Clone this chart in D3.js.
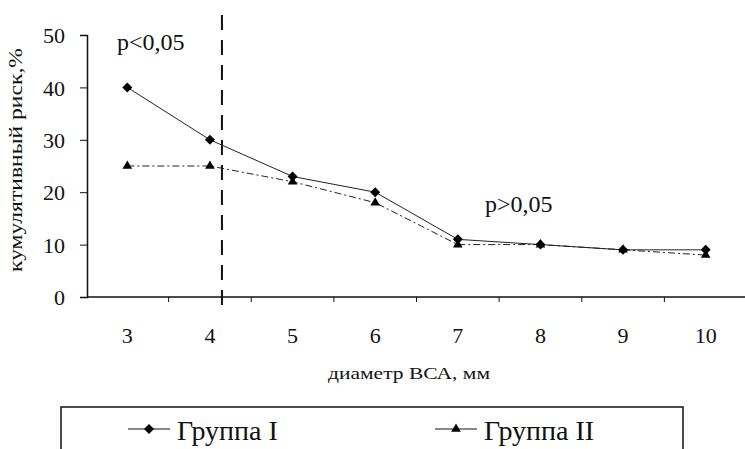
<!DOCTYPE html>
<html>
<head>
<meta charset="utf-8">
<script src="https://cdn.jsdelivr.net/npm/d3@7"></script>
<style>
  body { margin: 0; background: #fff; }
  svg text { font-family: 'Liberation Serif', 'Times New Roman', Tinos, 'DejaVu Serif', serif !important; fill: #111; }
</style>
</head>
<body>
<svg id="chart" width="745" height="449"></svg>
<script>
// Data
const diameters = [3, 4, 5, 6, 7, 8, 9, 10];
const groupOne = [40, 30, 23, 20, 11, 10, 9, 9];
const groupTwo = [25, 25, 22, 18, 10, 10, 9, 8];
const yTicks = [0, 10, 20, 30, 40, 50];
const seriesNames = ["Группа I", "Группа II"];

const svg = d3.select("#chart");

// Plot area
const margin = { top: 35, right: 0, bottom: 152, left: 87 };
const width = 745 - margin.left - margin.right;
const height = 449 - margin.top - margin.bottom; // y=0 at 297

const g = svg.append("g")
    .attr("transform", `translate(${margin.left},${margin.top})`);

// Scales
const x = d3.scaleBand()
    .domain(diameters)
    .range([-1, 660]);

const y = d3.scaleLinear()
    .domain([0, 50])
    .range([height, 0]);

const cx = d => x(d) + x.bandwidth() / 2;

// X axis (ticks between categories)
const xAxisGroup = g.append("g")
    .attr("transform", `translate(0,${height})`);
xAxisGroup.append("line")
    .attr("x1", 0).attr("x2", width)
    .attr("stroke", "#111").attr("stroke-width", 1.5);
xAxisGroup.selectAll(".xtick")
    .data(diameters.slice(1))
    .enter().append("line")
    .attr("x1", d => x(d)).attr("x2", d => x(d))
    .attr("y1", 0).attr("y2", 5)
    .attr("stroke", "#111");
xAxisGroup.selectAll(".xlabel")
    .data(diameters)
    .enter().append("text")
    .attr("x", d => cx(d))
    .attr("y", 46)
    .attr("text-anchor", "middle")
    .style("font-size", "22px")
    .text(d => d);

// Y axis
const yAxisGroup = g.append("g")
    .call(d3.axisLeft(y).tickValues(yTicks).tickSize(7).tickPadding(15));
yAxisGroup.select(".domain").attr("stroke", "#111").attr("stroke-width", 1.5);
yAxisGroup.selectAll(".tick line").attr("stroke", "#111");
yAxisGroup.selectAll("text")
    .attr("dy", "0.35em")
    .style("font-size", "22px");

// Dashed divider after diameter 4
const dividerX = cx(4) + 12;
g.append("line")
    .attr("x1", dividerX).attr("x2", dividerX)
    .attr("y1", -20).attr("y2", height + 10)
    .attr("stroke", "#111")
    .attr("stroke-width", 2)
    .attr("stroke-dasharray", "15,10");

// Lines
const line = d3.line()
    .x((d, i) => cx(diameters[i]))
    .y(d => y(d));

g.append("path")
    .datum(groupOne)
    .attr("fill", "none")
    .attr("stroke", "#222")
    .attr("stroke-width", 1)
    .attr("d", line);

g.append("path")
    .datum(groupTwo)
    .attr("fill", "none")
    .attr("stroke", "#222")
    .attr("stroke-width", 1)
    .attr("stroke-dasharray", "7,3,2,3")
    .attr("d", line);

// Markers
const diamond = d3.symbol().type(d3.symbolSquare).size(50);
const triangle = d3.symbol().type(d3.symbolTriangle).size(40);

g.selectAll(".m2")
    .data(groupTwo)
    .enter().append("path")
    .attr("transform", (d, i) => `translate(${cx(diameters[i])},${y(d)})`)
    .attr("d", triangle)
    .attr("fill", "#000");

g.selectAll(".m1")
    .data(groupOne)
    .enter().append("path")
    .attr("transform", (d, i) => `translate(${cx(diameters[i])},${y(d)}) rotate(45)`)
    .attr("d", diamond)
    .attr("fill", "#000");

// Annotations
svg.append("text")
    .attr("x", 117)
    .attr("y", 50)
    .style("font-size", "24px")
    .text("p<0,05");

svg.append("text")
    .attr("x", 485)
    .attr("y", 212)
    .style("font-size", "24px")
    .text("p>0,05");

// Axis titles
svg.append("text")
    .attr("transform", "translate(22,160) rotate(-90)")
    .attr("text-anchor", "middle")
    .attr("textLength", 224)
    .attr("lengthAdjust", "spacingAndGlyphs")
    .style("font-size", "18px")
    .text("кумулятивный риск,%");

svg.append("text")
    .attr("x", 409)
    .attr("y", 379)
    .attr("text-anchor", "middle")
    .attr("textLength", 162)
    .attr("lengthAdjust", "spacingAndGlyphs")
    .style("font-size", "17px")
    .text("диаметр ВСА, мм");

// Legend box (cut off at bottom)
const legend = svg.append("g");
legend.append("path")
    .attr("d", "M61,449 V407 H683 V449")
    .attr("fill", "none")
    .attr("stroke", "#111")
    .attr("stroke-width", 1.5);

const legendItems = [
    { name: seriesNames[0], x: 128, marker: diamond, rot: 45 },
    { name: seriesNames[1], x: 435, marker: triangle, rot: 0 }
];

legendItems.forEach(item => {
    const lg = legend.append("g").attr("transform", `translate(${item.x},429)`);
    lg.append("line")
        .attr("x1", 0).attr("x2", 42)
        .attr("stroke", "#111").attr("stroke-width", 1.2);
    lg.append("path")
        .attr("transform", `translate(21,0) rotate(${item.rot})`)
        .attr("d", item.marker)
        .attr("fill", "#000");
    lg.append("text")
        .attr("x", 49)
        .attr("y", 11)
        .style("font-size", "28px")
        .text(item.name);
});
</script>
</body>
</html>
